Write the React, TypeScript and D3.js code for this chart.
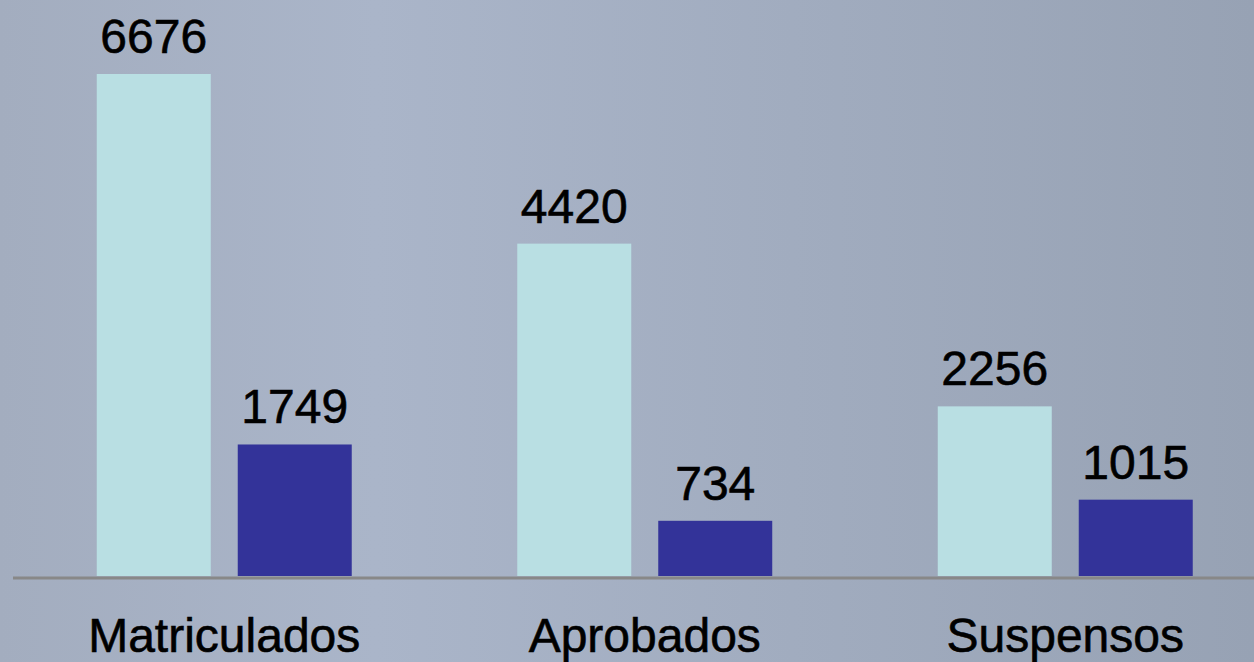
import React from "react";
import * as d3 from "d3";

const categories = ["Matriculados", "Aprobados", "Suspensos"];
const seriesKeys = ["A", "B"];
const seriesA = [6676, 4420, 2256];
const seriesB = [1749, 734, 1015];
const seriesColors = ["#b9dfe3", "#333399"];

const W = 1254;
const H = 662;

export default function App() {
  const x0 = d3.scaleBand<string>().domain(categories).range([14, 1275.5]).padding(0);
  const x1 = d3
    .scaleBand<string>()
    .domain(seriesKeys)
    .range([0, x0.bandwidth()])
    .paddingInner(0.1915)
    .paddingOuter(0.587);
  const y = d3.scaleLinear().domain([0, 7660]).range([576, 0]);
  const values = [seriesA, seriesB];

  return (
    <svg
      width={W}
      height={H}
      style={{ position: "absolute", left: 0, top: 0, display: "block" }}
      fontFamily="'Liberation Sans', Arial, sans-serif"
    >
      <defs>
        <linearGradient id="bg" x1="0" y1="0" x2="1" y2="0">
          <stop offset="0%" stopColor="#a3adbf" />
          <stop offset="30%" stopColor="#aab5c9" />
          <stop offset="100%" stopColor="#97a2b4" />
        </linearGradient>
      </defs>
      <rect x={0} y={0} width={W} height={H} fill="url(#bg)" />
      {categories.map((c, i) => (
        <g key={c} transform={`translate(${x0(c)},0)`}>
          {seriesKeys.map((k, j) => {
            const v = values[j][i];
            const bx = x1(k)!;
            return (
              <g key={k}>
                <rect
                  x={bx}
                  y={y(v)}
                  width={x1.bandwidth()}
                  height={y(0) - y(v)}
                  fill={seriesColors[j]}
                />
                <text
                  x={bx + x1.bandwidth() / 2}
                  y={y(v) - 21}
                  textAnchor="middle"
                  fontSize={48}
                  fill="#000"
                  stroke="#000"
                  strokeWidth={0.6}
                >
                  {v}
                </text>
              </g>
            );
          })}
          <text
            x={x0.bandwidth() / 2}
            y={652}
            textAnchor="middle"
            fontSize={48}
            fill="#000"
            stroke="#000"
            strokeWidth={0.6}
          >
            {c}
          </text>
        </g>
      ))}
      <line x1={13} x2={W} y1={578} y2={578} stroke="#888888" strokeWidth={3} />
    </svg>
  );
}
